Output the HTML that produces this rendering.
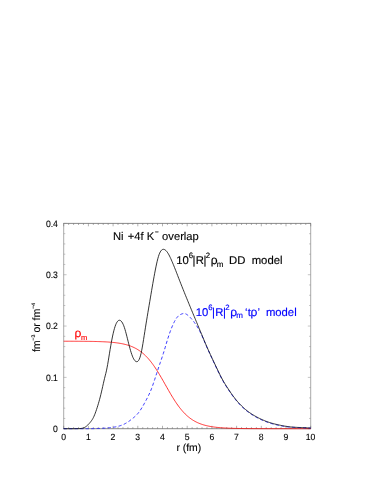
<!DOCTYPE html>
<html><head><meta charset="utf-8"><style>
html,body{margin:0;padding:0;background:#fff;}
svg{display:block;font-family:"Liberation Sans",sans-serif;text-rendering:geometricPrecision;}
</style></head><body>
<svg width="374" height="484" viewBox="0 0 374 484">
<defs><filter id="nf" x="0" y="0" width="374" height="484" filterUnits="userSpaceOnUse"><feOffset dx="0" dy="0"/></filter></defs><rect width="374" height="484" fill="#fff"/>
<path d="M63.7,223.4 V428.7 M310.7,223.4 V428.7" stroke="#7c7c7c" stroke-width="0.65" fill="none"/>
<path d="M63.400000000000006,223.4 H311.0 M63.400000000000006,428.7 H311.0" stroke="#484848" stroke-width="0.65" fill="none"/>
<path d="M63.70,428.7 v-2.9 M63.70,223.4 v2.9 M68.64,428.7 v-1.6 M68.64,223.4 v1.6 M73.58,428.7 v-1.6 M73.58,223.4 v1.6 M78.52,428.7 v-1.6 M78.52,223.4 v1.6 M83.46,428.7 v-1.6 M83.46,223.4 v1.6 M88.40,428.7 v-2.9 M88.40,223.4 v2.9 M93.34,428.7 v-1.6 M93.34,223.4 v1.6 M98.28,428.7 v-1.6 M98.28,223.4 v1.6 M103.22,428.7 v-1.6 M103.22,223.4 v1.6 M108.16,428.7 v-1.6 M108.16,223.4 v1.6 M113.10,428.7 v-2.9 M113.10,223.4 v2.9 M118.04,428.7 v-1.6 M118.04,223.4 v1.6 M122.98,428.7 v-1.6 M122.98,223.4 v1.6 M127.92,428.7 v-1.6 M127.92,223.4 v1.6 M132.86,428.7 v-1.6 M132.86,223.4 v1.6 M137.80,428.7 v-2.9 M137.80,223.4 v2.9 M142.74,428.7 v-1.6 M142.74,223.4 v1.6 M147.68,428.7 v-1.6 M147.68,223.4 v1.6 M152.62,428.7 v-1.6 M152.62,223.4 v1.6 M157.56,428.7 v-1.6 M157.56,223.4 v1.6 M162.50,428.7 v-2.9 M162.50,223.4 v2.9 M167.44,428.7 v-1.6 M167.44,223.4 v1.6 M172.38,428.7 v-1.6 M172.38,223.4 v1.6 M177.32,428.7 v-1.6 M177.32,223.4 v1.6 M182.26,428.7 v-1.6 M182.26,223.4 v1.6 M187.20,428.7 v-2.9 M187.20,223.4 v2.9 M192.14,428.7 v-1.6 M192.14,223.4 v1.6 M197.08,428.7 v-1.6 M197.08,223.4 v1.6 M202.02,428.7 v-1.6 M202.02,223.4 v1.6 M206.96,428.7 v-1.6 M206.96,223.4 v1.6 M211.90,428.7 v-2.9 M211.90,223.4 v2.9 M216.84,428.7 v-1.6 M216.84,223.4 v1.6 M221.78,428.7 v-1.6 M221.78,223.4 v1.6 M226.72,428.7 v-1.6 M226.72,223.4 v1.6 M231.66,428.7 v-1.6 M231.66,223.4 v1.6 M236.60,428.7 v-2.9 M236.60,223.4 v2.9 M241.54,428.7 v-1.6 M241.54,223.4 v1.6 M246.48,428.7 v-1.6 M246.48,223.4 v1.6 M251.42,428.7 v-1.6 M251.42,223.4 v1.6 M256.36,428.7 v-1.6 M256.36,223.4 v1.6 M261.30,428.7 v-2.9 M261.30,223.4 v2.9 M266.24,428.7 v-1.6 M266.24,223.4 v1.6 M271.18,428.7 v-1.6 M271.18,223.4 v1.6 M276.12,428.7 v-1.6 M276.12,223.4 v1.6 M281.06,428.7 v-1.6 M281.06,223.4 v1.6 M286.00,428.7 v-2.9 M286.00,223.4 v2.9 M290.94,428.7 v-1.6 M290.94,223.4 v1.6 M295.88,428.7 v-1.6 M295.88,223.4 v1.6 M300.82,428.7 v-1.6 M300.82,223.4 v1.6 M305.76,428.7 v-1.6 M305.76,223.4 v1.6 M310.70,428.7 v-2.9 M310.70,223.4 v2.9" stroke="#666" stroke-width="0.5" fill="none"/>
<path d="M63.7,428.70 h2.9 M310.7,428.70 h-2.9 M63.7,418.44 h1.6 M310.7,418.44 h-1.6 M63.7,408.17 h1.6 M310.7,408.17 h-1.6 M63.7,397.90 h1.6 M310.7,397.90 h-1.6 M63.7,387.64 h1.6 M310.7,387.64 h-1.6 M63.7,377.38 h2.9 M310.7,377.38 h-2.9 M63.7,367.11 h1.6 M310.7,367.11 h-1.6 M63.7,356.84 h1.6 M310.7,356.84 h-1.6 M63.7,346.58 h1.6 M310.7,346.58 h-1.6 M63.7,336.31 h1.6 M310.7,336.31 h-1.6 M63.7,326.05 h2.9 M310.7,326.05 h-2.9 M63.7,315.78 h1.6 M310.7,315.78 h-1.6 M63.7,305.52 h1.6 M310.7,305.52 h-1.6 M63.7,295.25 h1.6 M310.7,295.25 h-1.6 M63.7,284.99 h1.6 M310.7,284.99 h-1.6 M63.7,274.73 h2.9 M310.7,274.73 h-2.9 M63.7,264.46 h1.6 M310.7,264.46 h-1.6 M63.7,254.20 h1.6 M310.7,254.20 h-1.6 M63.7,243.93 h1.6 M310.7,243.93 h-1.6 M63.7,233.67 h1.6 M310.7,233.67 h-1.6 M63.7,223.40 h2.9 M310.7,223.40 h-2.9" stroke="#8a8a8a" stroke-width="0.5" fill="none"/>
<g font-size="8.8" fill="#000" stroke="#000" stroke-width="0.12" filter="url(#nf)"><text transform="translate(63.60,439.5) scale(0.96,1)" font-size="9.0" text-anchor="middle">0</text><text transform="translate(88.30,439.5) scale(0.96,1)" font-size="9.0" text-anchor="middle">1</text><text transform="translate(113.00,439.5) scale(0.96,1)" font-size="9.0" text-anchor="middle">2</text><text transform="translate(137.70,439.5) scale(0.96,1)" font-size="9.0" text-anchor="middle">3</text><text transform="translate(162.40,439.5) scale(0.96,1)" font-size="9.0" text-anchor="middle">4</text><text transform="translate(187.10,439.5) scale(0.96,1)" font-size="9.0" text-anchor="middle">5</text><text transform="translate(211.80,439.5) scale(0.96,1)" font-size="9.0" text-anchor="middle">6</text><text transform="translate(236.50,439.5) scale(0.96,1)" font-size="9.0" text-anchor="middle">7</text><text transform="translate(261.20,439.5) scale(0.96,1)" font-size="9.0" text-anchor="middle">8</text><text transform="translate(285.90,439.5) scale(0.96,1)" font-size="9.0" text-anchor="middle">9</text><text transform="translate(310.60,439.5) scale(0.96,1)" font-size="9.0" text-anchor="middle">10</text><text transform="translate(57.9,432.05) scale(0.92,1)" font-size="9.4" text-anchor="end">0</text><text transform="translate(57.9,380.73) scale(0.92,1)" font-size="9.4" text-anchor="end">0.1</text><text transform="translate(57.9,329.40) scale(0.92,1)" font-size="9.4" text-anchor="end">0.2</text><text transform="translate(57.9,278.08) scale(0.92,1)" font-size="9.4" text-anchor="end">0.3</text><text transform="translate(57.9,226.75) scale(0.92,1)" font-size="9.4" text-anchor="end">0.4</text></g>
<path d="M63.70,341.21 L64.53,341.22 L65.35,341.22 L66.18,341.22 L67.00,341.22 L67.83,341.22 L68.66,341.23 L69.48,341.23 L70.31,341.23 L71.13,341.23 L71.96,341.24 L72.79,341.24 L73.61,341.24 L74.44,341.25 L75.27,341.25 L76.09,341.25 L76.92,341.26 L77.74,341.26 L78.57,341.27 L79.40,341.27 L80.22,341.28 L81.05,341.28 L81.87,341.29 L82.70,341.30 L83.53,341.31 L84.35,341.31 L85.18,341.32 L86.00,341.33 L86.83,341.34 L87.66,341.35 L88.48,341.36 L89.31,341.37 L90.13,341.39 L90.96,341.40 L91.79,341.41 L92.61,341.43 L93.44,341.45 L94.27,341.46 L95.09,341.48 L95.92,341.50 L96.74,341.52 L97.57,341.55 L98.40,341.57 L99.22,341.60 L100.05,341.63 L100.87,341.66 L101.70,341.69 L102.53,341.72 L103.35,341.76 L104.18,341.80 L105.00,341.84 L105.83,341.89 L106.66,341.93 L107.48,341.98 L108.31,342.04 L109.13,342.10 L109.96,342.16 L110.79,342.22 L111.61,342.29 L112.44,342.37 L113.27,342.45 L114.09,342.54 L114.92,342.63 L115.74,342.73 L116.57,342.83 L117.40,342.94 L118.22,343.06 L119.05,343.19 L119.87,343.32 L120.70,343.46 L121.53,343.62 L122.35,343.78 L123.18,343.95 L124.00,344.14 L124.83,344.33 L125.66,344.54 L126.48,344.76 L127.31,345.00 L128.13,345.25 L128.96,345.52 L129.79,345.80 L130.61,346.10 L131.44,346.42 L132.27,346.76 L133.09,347.12 L133.92,347.50 L134.74,347.91 L135.57,348.33 L136.40,348.78 L137.22,349.26 L138.05,349.76 L138.87,350.30 L139.70,350.86 L140.53,351.45 L141.35,352.07 L142.18,352.72 L143.00,353.41 L143.83,354.13 L144.66,354.88 L145.48,355.67 L146.31,356.50 L147.13,357.36 L147.96,358.26 L148.79,359.20 L149.61,360.18 L150.44,361.19 L151.27,362.24 L152.09,363.33 L152.92,364.45 L153.74,365.61 L154.57,366.81 L155.40,368.04 L156.22,369.30 L157.05,370.59 L157.87,371.91 L158.70,373.25 L159.53,374.62 L160.35,376.02 L161.18,377.43 L162.00,378.86 L162.83,380.30 L163.66,381.75 L164.48,383.21 L165.31,384.67 L166.13,386.13 L166.96,387.59 L167.79,389.05 L168.61,390.49 L169.44,391.93 L170.27,393.34 L171.09,394.74 L171.92,396.12 L172.74,397.48 L173.57,398.81 L174.40,400.11 L175.22,401.38 L176.05,402.63 L176.87,403.83 L177.70,405.01 L178.53,406.14 L179.35,407.25 L180.18,408.31 L181.00,409.34 L181.83,410.33 L182.66,411.28 L183.48,412.19 L184.31,413.07 L185.13,413.91 L185.96,414.72 L186.79,415.48 L187.61,416.22 L188.44,416.92 L189.27,417.58 L190.09,418.21 L190.92,418.82 L191.74,419.39 L192.57,419.93 L193.40,420.44 L194.22,420.93 L195.05,421.39 L195.87,421.83 L196.70,422.24 L197.53,422.63 L198.35,423.00 L199.18,423.34 L200.00,423.67 L200.83,423.98 L201.66,424.27 L202.48,424.54 L203.31,424.80 L204.13,425.04 L204.96,425.27 L205.79,425.48 L206.61,425.68 L207.44,425.87 L208.27,426.05 L209.09,426.21 L209.92,426.37 L210.74,426.52 L211.57,426.66 L212.40,426.79 L213.22,426.91 L214.05,427.02 L214.87,427.13 L215.70,427.23 L216.53,427.32 L217.35,427.41 L218.18,427.49 L219.00,427.57 L219.83,427.64 L220.66,427.71 L221.48,427.77 L222.31,427.83 L223.13,427.89 L223.96,427.94 L224.79,427.99 L225.61,428.03 L226.44,428.08 L227.27,428.12 L228.09,428.15 L228.92,428.19 L229.74,428.22 L230.57,428.25 L231.40,428.28 L232.22,428.31 L233.05,428.33 L233.87,428.36 L234.70,428.38 L235.53,428.40 L236.35,428.42 L237.18,428.44 L238.00,428.45 L238.83,428.47 L239.66,428.49 L240.48,428.50 L241.31,428.51 L242.13,428.52 L242.96,428.54 L243.79,428.55 L244.61,428.56 L245.44,428.57 L246.27,428.57 L247.09,428.58 L247.92,428.59 L248.74,428.60 L249.57,428.60 L250.40,428.61 L251.22,428.62 L252.05,428.62 L252.87,428.63 L253.70,428.63 L254.53,428.64 L255.35,428.64 L256.18,428.64 L257.00,428.65 L257.83,428.65 L258.66,428.65 L259.48,428.66 L260.31,428.66 L261.13,428.66 L261.96,428.66 L262.79,428.67 L263.61,428.67 L264.44,428.67 L265.27,428.67 L266.09,428.67 L266.92,428.68 L267.74,428.68 L268.57,428.68 L269.40,428.68 L270.22,428.68 L271.05,428.68 L271.87,428.68 L272.70,428.69 L273.53,428.69 L274.35,428.69 L275.18,428.69 L276.00,428.69 L276.83,428.69 L277.66,428.69 L278.48,428.69 L279.31,428.69 L280.13,428.69 L280.96,428.69 L281.79,428.69 L282.61,428.69 L283.44,428.69 L284.27,428.69 L285.09,428.69 L285.92,428.69 L286.74,428.70 L287.57,428.70 L288.40,428.70 L289.22,428.70 L290.05,428.70 L290.87,428.70 L291.70,428.70 L292.53,428.70 L293.35,428.70 L294.18,428.70 L295.00,428.70 L295.83,428.70 L296.66,428.70 L297.48,428.70 L298.31,428.70 L299.13,428.70 L299.96,428.70 L300.79,428.70 L301.61,428.70 L302.44,428.70 L303.27,428.70 L304.09,428.70 L304.92,428.70 L305.74,428.70 L306.57,428.70 L307.40,428.70 L308.22,428.70 L309.05,428.70 L309.87,428.70 L310.70,428.70" stroke="#f00" stroke-width="0.8" fill="none"/>
<path d="M63.70,428.70 L64.32,428.69 L64.94,428.68 L65.56,428.68 L66.18,428.67 L66.80,428.67 L67.41,428.66 L68.03,428.66 L68.65,428.66 L69.27,428.66 L69.89,428.66 L70.51,428.66 L71.13,428.66 L71.75,428.66 L72.37,428.66 L72.99,428.66 L73.60,428.66 L74.22,428.66 L74.84,428.66 L75.46,428.67 L76.08,428.67 L76.70,428.67 L77.32,428.68 L77.94,428.68 L78.56,428.68 L79.18,428.69 L79.80,428.69 L80.41,428.69 L81.03,428.69 L81.65,428.70 L82.27,428.70 L82.89,428.70 L83.51,428.70 L84.13,428.70 L84.75,428.70 L85.37,428.70 L85.99,428.70 L86.60,428.70 L87.22,428.70 L87.84,428.69 L88.46,428.69 L89.08,428.69 L89.70,428.68 L90.32,428.67 L90.94,428.67 L91.56,428.66 L92.18,428.65 L92.80,428.64 L93.41,428.63 L94.03,428.62 L94.65,428.60 L95.27,428.59 L95.89,428.57 L96.51,428.55 L97.13,428.53 L97.75,428.51 L98.37,428.49 L98.99,428.47 L99.60,428.44 L100.22,428.42 L100.84,428.39 L101.46,428.36 L102.08,428.32 L102.70,428.29 L103.32,428.25 L103.94,428.21 L104.56,428.17 L105.18,428.12 L105.80,428.08 L106.41,428.03 L107.03,427.97 L107.65,427.92 L108.27,427.86 L108.89,427.79 L109.51,427.73 L110.13,427.66 L110.75,427.59 L111.37,427.51 L111.99,427.43 L112.60,427.34 L113.22,427.25 L113.84,427.16 L114.46,427.06 L115.08,426.95 L115.70,426.84 L116.32,426.72 L116.94,426.59 L117.56,426.45 L118.18,426.30 L118.80,426.13 L119.41,425.96 L120.03,425.77 L120.65,425.57 L121.27,425.36 L121.89,425.13 L122.51,424.88 L123.13,424.62 L123.75,424.34 L124.37,424.04 L124.99,423.72 L125.60,423.39 L126.22,423.04 L126.84,422.67 L127.46,422.28 L128.08,421.87 L128.70,421.44 L129.32,420.99 L129.94,420.54 L130.56,420.06 L131.18,419.58 L131.80,419.09 L132.41,418.60 L133.03,418.10 L133.65,417.60 L134.27,417.08 L134.89,416.55 L135.51,415.99 L136.13,415.40 L136.75,414.77 L137.37,414.09 L137.99,413.36 L138.60,412.59 L139.22,411.77 L139.84,410.90 L140.46,409.99 L141.08,409.04 L141.70,408.04 L142.32,407.02 L142.94,405.96 L143.56,404.88 L144.18,403.77 L144.80,402.64 L145.41,401.50 L146.03,400.34 L146.65,399.16 L147.27,397.97 L147.89,396.76 L148.51,395.51 L149.13,394.23 L149.75,392.89 L150.37,391.49 L150.99,390.01 L151.60,388.43 L152.22,386.77 L152.84,385.03 L153.46,383.23 L154.08,381.38 L154.70,379.49 L155.32,377.57 L155.94,375.65 L156.56,373.72 L157.18,371.81 L157.80,369.92 L158.41,368.06 L159.03,366.23 L159.65,364.42 L160.27,362.62 L160.89,360.81 L161.51,358.99 L162.13,357.15 L162.75,355.28 L163.37,353.36 L163.99,351.40 L164.60,349.37 L165.22,347.29 L165.84,345.19 L166.46,343.09 L167.08,341.02 L167.70,339.01 L168.32,337.07 L168.94,335.20 L169.56,333.40 L170.18,331.67 L170.80,330.00 L171.41,328.40 L172.03,326.88 L172.65,325.42 L173.27,324.03 L173.89,322.71 L174.51,321.48 L175.13,320.33 L175.75,319.28 L176.37,318.33 L176.99,317.48 L177.60,316.74 L178.22,316.11 L178.84,315.58 L179.46,315.12 L180.08,314.74 L180.70,314.42 L181.32,314.15 L181.94,313.91 L182.56,313.69 L183.18,313.52 L183.80,313.43 L184.41,313.46 L185.03,313.60 L185.65,313.84 L186.27,314.16 L186.89,314.55 L187.51,314.99 L188.13,315.49 L188.75,316.03 L189.37,316.61 L189.99,317.23 L190.60,317.88 L191.22,318.56 L191.84,319.28 L192.46,320.02 L193.08,320.79 L193.70,321.58 L194.32,322.41 L194.94,323.27 L195.56,324.16 L196.18,325.08 L196.80,326.03 L197.41,327.02 L198.03,328.05 L198.65,329.13 L199.27,330.25 L199.89,331.44 L200.51,332.69 L201.13,333.99 L201.75,335.33 L202.37,336.71 L202.99,338.12 L203.60,339.55 L204.22,341.00 L204.84,342.45 L205.46,343.91 L206.08,345.36 L206.70,346.80 L207.32,348.21 L207.94,349.59 L208.56,350.96 L209.18,352.32 L209.80,353.68 L210.41,355.02 L211.03,356.36 L211.65,357.70 L212.27,359.03 L212.89,360.35 L213.51,361.67 L214.13,362.99 L214.75,364.31 L215.37,365.62 L215.99,366.94 L216.60,368.25 L217.22,369.56 L217.84,370.87 L218.46,372.16 L219.08,373.44 L219.70,374.70 L220.32,375.94 L220.94,377.16 L221.56,378.35 L222.18,379.51 L222.80,380.64 L223.41,381.73 L224.03,382.79 L224.65,383.82 L225.27,384.83 L225.89,385.82 L226.51,386.79 L227.13,387.74 L227.75,388.69 L228.37,389.62 L228.99,390.55 L229.60,391.48 L230.22,392.39 L230.84,393.29 L231.46,394.18 L232.08,395.05 L232.70,395.91 L233.32,396.76 L233.94,397.59 L234.56,398.39 L235.18,399.19 L235.80,399.96 L236.41,400.71 L237.03,401.45 L237.65,402.17 L238.27,402.87 L238.89,403.56 L239.51,404.23 L240.13,404.88 L240.75,405.52 L241.37,406.14 L241.99,406.75 L242.60,407.34 L243.22,407.92 L243.84,408.49 L244.46,409.04 L245.08,409.57 L245.70,410.10 L246.32,410.60 L246.94,411.10 L247.56,411.58 L248.18,412.05 L248.80,412.51 L249.41,412.95 L250.03,413.38 L250.65,413.80 L251.27,414.21 L251.89,414.61 L252.51,415.00 L253.13,415.38 L253.75,415.75 L254.37,416.12 L254.99,416.48 L255.60,416.83 L256.22,417.17 L256.84,417.50 L257.46,417.83 L258.08,418.16 L258.70,418.47 L259.32,418.78 L259.94,419.09 L260.56,419.38 L261.18,419.67 L261.80,419.95 L262.41,420.23 L263.03,420.50 L263.65,420.76 L264.27,421.02 L264.89,421.27 L265.51,421.52 L266.13,421.75 L266.75,421.98 L267.37,422.21 L267.99,422.43 L268.60,422.64 L269.22,422.85 L269.84,423.05 L270.46,423.25 L271.08,423.44 L271.70,423.62 L272.32,423.80 L272.94,423.97 L273.56,424.14 L274.18,424.30 L274.80,424.45 L275.41,424.59 L276.03,424.74 L276.65,424.88 L277.27,425.01 L277.89,425.15 L278.51,425.28 L279.13,425.41 L279.75,425.53 L280.37,425.66 L280.99,425.78 L281.60,425.90 L282.22,426.01 L282.84,426.13 L283.46,426.23 L284.08,426.34 L284.70,426.44 L285.32,426.54 L285.94,426.63 L286.56,426.71 L287.18,426.80 L287.80,426.87 L288.41,426.94 L289.03,427.01 L289.65,427.07 L290.27,427.13 L290.89,427.18 L291.51,427.23 L292.13,427.28 L292.75,427.32 L293.37,427.36 L293.99,427.40 L294.60,427.43 L295.22,427.46 L295.84,427.49 L296.46,427.52 L297.08,427.55 L297.70,427.57 L298.32,427.59 L298.94,427.61 L299.56,427.63 L300.18,427.65 L300.80,427.67 L301.41,427.69 L302.03,427.71 L302.65,427.72 L303.27,427.74 L303.89,427.76 L304.51,427.78 L305.13,427.80 L305.75,427.83 L306.37,427.85 L306.99,427.88 L307.60,427.91 L308.22,427.94 L308.84,427.97 L309.46,428.00 L310.08,428.04 L310.70,428.08" stroke="#2222ff" stroke-width="0.9" fill="none" stroke-dasharray="3.2 2.3"/>
<path d="M63.70,428.70 L64.32,428.70 L64.94,428.70 L65.56,428.70 L66.18,428.70 L66.80,428.70 L67.41,428.70 L68.03,428.70 L68.65,428.70 L69.27,428.70 L69.89,428.70 L70.51,428.70 L71.13,428.70 L71.75,428.70 L72.37,428.70 L72.99,428.70 L73.60,428.70 L74.22,428.69 L74.84,428.68 L75.46,428.67 L76.08,428.66 L76.70,428.64 L77.32,428.63 L77.94,428.61 L78.56,428.60 L79.18,428.58 L79.80,428.55 L80.41,428.51 L81.03,428.45 L81.65,428.36 L82.27,428.24 L82.89,428.08 L83.51,427.88 L84.13,427.63 L84.75,427.32 L85.37,426.97 L85.99,426.55 L86.60,426.07 L87.22,425.54 L87.84,424.95 L88.46,424.31 L89.08,423.64 L89.70,422.94 L90.32,422.20 L90.94,421.43 L91.56,420.60 L92.18,419.68 L92.80,418.66 L93.41,417.50 L94.03,416.19 L94.65,414.73 L95.27,413.14 L95.89,411.42 L96.51,409.61 L97.13,407.71 L97.75,405.74 L98.37,403.69 L98.99,401.57 L99.60,399.34 L100.22,397.00 L100.84,394.54 L101.46,391.94 L102.08,389.23 L102.70,386.47 L103.32,383.70 L103.94,380.98 L104.56,378.37 L105.18,375.89 L105.80,373.46 L106.41,370.85 L107.03,367.87 L107.65,364.51 L108.27,360.88 L108.89,357.08 L109.51,353.22 L110.13,349.42 L110.75,345.77 L111.37,342.31 L111.99,339.07 L112.60,336.04 L113.22,333.25 L113.84,330.72 L114.46,328.44 L115.08,326.45 L115.70,324.75 L116.32,323.33 L116.94,322.20 L117.56,321.33 L118.18,320.72 L118.80,320.36 L119.41,320.24 L120.03,320.35 L120.65,320.68 L121.27,321.23 L121.89,322.01 L122.51,323.02 L123.13,324.27 L123.75,325.75 L124.37,327.47 L124.99,329.42 L125.60,331.56 L126.22,333.86 L126.84,336.27 L127.46,338.75 L128.08,341.24 L128.70,343.72 L129.32,346.13 L129.94,348.44 L130.56,350.62 L131.18,352.64 L131.80,354.49 L132.41,356.15 L133.03,357.62 L133.65,358.86 L134.27,359.87 L134.89,360.65 L135.51,361.22 L136.13,361.56 L136.75,361.69 L137.37,361.57 L137.99,361.17 L138.60,360.44 L139.22,359.33 L139.84,357.81 L140.46,355.83 L141.08,353.35 L141.70,350.40 L142.32,347.06 L142.94,343.43 L143.56,339.60 L144.18,335.66 L144.80,331.70 L145.41,327.80 L146.03,323.96 L146.65,320.16 L147.27,316.40 L147.89,312.68 L148.51,308.98 L149.13,305.29 L149.75,301.62 L150.37,297.95 L150.99,294.28 L151.60,290.64 L152.22,287.03 L152.84,283.48 L153.46,279.98 L154.08,276.56 L154.70,273.23 L155.32,270.00 L155.94,266.90 L156.56,263.97 L157.18,261.25 L157.80,258.77 L158.41,256.58 L159.03,254.71 L159.65,253.15 L160.27,251.90 L160.89,250.92 L161.51,250.19 L162.13,249.69 L162.75,249.41 L163.37,249.31 L163.99,249.38 L164.60,249.60 L165.22,249.97 L165.84,250.48 L166.46,251.13 L167.08,251.90 L167.70,252.79 L168.32,253.79 L168.94,254.89 L169.56,256.08 L170.18,257.34 L170.80,258.67 L171.41,260.05 L172.03,261.46 L172.65,262.92 L173.27,264.40 L173.89,265.92 L174.51,267.46 L175.13,269.02 L175.75,270.59 L176.37,272.18 L176.99,273.78 L177.60,275.38 L178.22,276.99 L178.84,278.59 L179.46,280.18 L180.08,281.77 L180.70,283.35 L181.32,284.92 L181.94,286.48 L182.56,288.04 L183.18,289.58 L183.80,291.12 L184.41,292.66 L185.03,294.19 L185.65,295.72 L186.27,297.24 L186.89,298.76 L187.51,300.27 L188.13,301.78 L188.75,303.29 L189.37,304.79 L189.99,306.29 L190.60,307.79 L191.22,309.29 L191.84,310.79 L192.46,312.28 L193.08,313.77 L193.70,315.26 L194.32,316.75 L194.94,318.24 L195.56,319.73 L196.18,321.22 L196.80,322.71 L197.41,324.19 L198.03,325.68 L198.65,327.17 L199.27,328.66 L199.89,330.15 L200.51,331.64 L201.13,333.13 L201.75,334.62 L202.37,336.11 L202.99,337.61 L203.60,339.10 L204.22,340.58 L204.84,342.05 L205.46,343.51 L206.08,344.96 L206.70,346.38 L207.32,347.79 L207.94,349.19 L208.56,350.56 L209.18,351.93 L209.80,353.29 L210.41,354.63 L211.03,355.96 L211.65,357.29 L212.27,358.61 L212.89,359.93 L213.51,361.24 L214.13,362.55 L214.75,363.86 L215.37,365.17 L215.99,366.47 L216.60,367.79 L217.22,369.09 L217.84,370.39 L218.46,371.69 L219.08,372.97 L219.70,374.23 L220.32,375.47 L220.94,376.69 L221.56,377.88 L222.18,379.05 L222.80,380.18 L223.41,381.27 L224.03,382.33 L224.65,383.36 L225.27,384.37 L225.89,385.36 L226.51,386.33 L227.13,387.28 L227.75,388.23 L228.37,389.16 L228.99,390.09 L229.60,391.01 L230.22,391.92 L230.84,392.83 L231.46,393.72 L232.08,394.59 L232.70,395.45 L233.32,396.30 L233.94,397.12 L234.56,397.93 L235.18,398.72 L235.80,399.50 L236.41,400.25 L237.03,400.99 L237.65,401.71 L238.27,402.41 L238.89,403.10 L239.51,403.77 L240.13,404.42 L240.75,405.06 L241.37,405.68 L241.99,406.29 L242.60,406.88 L243.22,407.46 L243.84,408.03 L244.46,408.58 L245.08,409.11 L245.70,409.63 L246.32,410.14 L246.94,410.64 L247.56,411.12 L248.18,411.59 L248.80,412.05 L249.41,412.49 L250.03,412.92 L250.65,413.34 L251.27,413.75 L251.89,414.15 L252.51,414.54 L253.13,414.92 L253.75,415.29 L254.37,415.66 L254.99,416.01 L255.60,416.36 L256.22,416.71 L256.84,417.04 L257.46,417.37 L258.08,417.70 L258.70,418.01 L259.32,418.32 L259.94,418.62 L260.56,418.92 L261.18,419.21 L261.80,419.49 L262.41,419.77 L263.03,420.04 L263.65,420.30 L264.27,420.56 L264.89,420.81 L265.51,421.05 L266.13,421.29 L266.75,421.52 L267.37,421.75 L267.99,421.97 L268.60,422.18 L269.22,422.39 L269.84,422.59 L270.46,422.78 L271.08,422.97 L271.70,423.16 L272.32,423.34 L272.94,423.51 L273.56,423.68 L274.18,423.84 L274.80,424.00 L275.41,424.15 L276.03,424.31 L276.65,424.45 L277.27,424.60 L277.89,424.74 L278.51,424.88 L279.13,425.01 L279.75,425.15 L280.37,425.28 L280.99,425.41 L281.60,425.54 L282.22,425.66 L282.84,425.78 L283.46,425.89 L284.08,426.01 L284.70,426.11 L285.32,426.22 L285.94,426.32 L286.56,426.41 L287.18,426.50 L287.80,426.59 L288.41,426.67 L289.03,426.74 L289.65,426.81 L290.27,426.88 L290.89,426.94 L291.51,426.99 L292.13,427.05 L292.75,427.10 L293.37,427.15 L293.99,427.19 L294.60,427.23 L295.22,427.27 L295.84,427.31 L296.46,427.34 L297.08,427.38 L297.70,427.41 L298.32,427.44 L298.94,427.46 L299.56,427.49 L300.18,427.52 L300.80,427.55 L301.41,427.57 L302.03,427.60 L302.65,427.62 L303.27,427.65 L303.89,427.68 L304.51,427.71 L305.13,427.74 L305.75,427.77 L306.37,427.80 L306.99,427.83 L307.60,427.87 L308.22,427.91 L308.84,427.95 L309.46,427.99 L310.08,428.03 L310.70,428.08" stroke="#000" stroke-width="0.8" fill="none"/>
<g font-size="11.2" fill="#000" stroke="#000" stroke-width="0.12" filter="url(#nf)">
<text x="113.0" y="239.7">Ni</text><text x="127.7" y="239.7">+4f</text><text x="146.8" y="239.7">K</text><text x="154.9" y="233.8" font-size="6.2" stroke-width="0.3">−</text><text x="162.1" y="239.7">overlap</text>
<text x="176.20" y="263.80" font-size="11.3" fill="#000" stroke="#000" stroke-width="0.15">10</text><text x="188.70" y="258.20" font-size="7.8" fill="#000" stroke="#000" stroke-width="0.15">6</text><text x="192.40" y="263.80" font-size="11.3" fill="#000" stroke="#000" stroke-width="0.15">|</text><text x="195.70" y="263.80" font-size="11.3" fill="#000" stroke="#000" stroke-width="0.15">R</text><text x="203.40" y="263.80" font-size="11.3" fill="#000" stroke="#000" stroke-width="0.15">|</text><text x="205.80" y="258.20" font-size="7.8" fill="#000" stroke="#000" stroke-width="0.15">2</text><text x="210.70" y="263.80" font-size="12" fill="#000" stroke="#000" stroke-width="0.15">ρ</text><text x="216.70" y="266.60" font-size="8" fill="#000" stroke="#000" stroke-width="0.15">m</text><text x="229.00" y="263.80" font-size="11.3" fill="#000" stroke="#000" stroke-width="0.15">DD</text><text x="251.70" y="263.80" font-size="11.3" fill="#000" stroke="#000" stroke-width="0.15">model</text>
<text x="195.70" y="315.60" font-size="11.3" fill="#00f" stroke="#00f" stroke-width="0.15">10</text><text x="208.20" y="310.00" font-size="7.8" fill="#00f" stroke="#00f" stroke-width="0.15">6</text><text x="211.90" y="315.60" font-size="11.3" fill="#00f" stroke="#00f" stroke-width="0.15">|</text><text x="215.20" y="315.60" font-size="11.3" fill="#00f" stroke="#00f" stroke-width="0.15">R</text><text x="222.90" y="315.60" font-size="11.3" fill="#00f" stroke="#00f" stroke-width="0.15">|</text><text x="225.30" y="310.00" font-size="7.8" fill="#00f" stroke="#00f" stroke-width="0.15">2</text><text x="230.20" y="315.60" font-size="12" fill="#00f" stroke="#00f" stroke-width="0.15">ρ</text><text x="236.20" y="318.40" font-size="8" fill="#00f" stroke="#00f" stroke-width="0.15">m</text><text x="245.10" y="315.60" font-size="11.3" fill="#00f" stroke="#00f" stroke-width="0.15">‘</text><text x="247.70" y="315.60" font-size="11.3" fill="#00f" stroke="#00f" stroke-width="0.15">t</text><text x="250.50" y="315.60" font-size="12" fill="#00f" stroke="#00f" stroke-width="0.15">ρ</text><text x="257.40" y="315.60" font-size="11.3" fill="#00f" stroke="#00f" stroke-width="0.15">’</text><text x="265.90" y="315.60" font-size="11.3" fill="#00f" stroke="#00f" stroke-width="0.15">model</text>
<text x="74.6" y="337.4" fill="#f00" stroke="#f00" stroke-width="0.15" font-size="12">ρ</text><text x="80.9" y="339.9" fill="#f00" stroke="#f00" stroke-width="0.15" font-size="7.5">m</text>
<text x="188.8" y="450.6" text-anchor="middle" font-size="10.4" stroke="#000" stroke-width="0.12">r (fm)</text>
<g transform="translate(40.0,0) rotate(-90)" font-size="10.6" stroke="#000" stroke-width="0.12"><text x="-352.1" y="0">fm</text><text x="-340.7" y="-5.5" font-size="5.6">−</text><text x="-337.6" y="-5.5" font-size="5.2">3</text><text x="-332.6" y="0">or</text><text x="-320.4" y="0">fm</text><text x="-309.0" y="-5.5" font-size="5.6">−</text><text x="-305.8" y="-5.5" font-size="5.2">4</text></g>
</g>
</svg>
</body></html>
